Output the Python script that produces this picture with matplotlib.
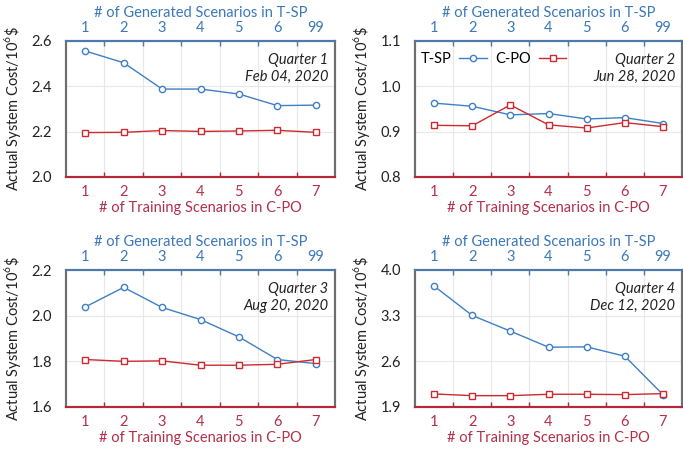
import matplotlib
matplotlib.use("Agg")
import matplotlib.pyplot as plt
from matplotlib.ticker import FixedLocator

plt.rcParams['font.family'] = ['Lato', 'DejaVu Sans']
plt.rcParams['mathtext.fontset'] = 'custom'
plt.rcParams['mathtext.rm'] = 'Lato'

train_labels = ['1', '2', '3', '4', '5', '6', '7']
gen_labels = ['1', '2', '3', '4', '5', '6', '99']
positions = [1, 2, 3, 4, 5, 6, 7]

q1_tsp = [2.556, 2.504, 2.388, 2.388, 2.366, 2.315, 2.317]
q1_cpo = [2.196, 2.197, 2.205, 2.201, 2.203, 2.206, 2.197]
q2_tsp = [0.963, 0.956, 0.937, 0.940, 0.928, 0.931, 0.918]
q2_cpo = [0.914, 0.913, 0.959, 0.915, 0.908, 0.920, 0.911]
q3_tsp = [2.038, 2.124, 2.036, 1.983, 1.907, 1.808, 1.790]
q3_cpo = [1.808, 1.800, 1.802, 1.783, 1.783, 1.787, 1.808]
q4_tsp = [3.754, 3.303, 3.063, 2.817, 2.822, 2.679, 2.090]
q4_cpo = [2.100, 2.074, 2.074, 2.095, 2.095, 2.090, 2.105]

panels = [
    (q1_tsp, q1_cpo, [2.0, 2.2, 2.4, 2.6], ['2.0', '2.2', '2.4', '2.6'], 'Quarter 1', 'Feb 04, 2020'),
    (q2_tsp, q2_cpo, [0.8, 0.9, 1.0, 1.1], ['0.8', '0.9', '1.0', '1.1'], 'Quarter 2', 'Jun 28, 2020'),
    (q3_tsp, q3_cpo, [1.6, 1.8, 2.0, 2.2], ['1.6', '1.8', '2.0', '2.2'], 'Quarter 3', 'Aug 20, 2020'),
    (q4_tsp, q4_cpo, [1.9, 2.6, 3.3, 4.0], ['1.9', '2.6', '3.3', '4.0'], 'Quarter 4', 'Dec 12, 2020'),
]

W, H = 683, 454
boxes = [(66, 41, 335, 177), (415, 41, 682, 177), (66, 270, 335, 407), (415, 270, 682, 407)]

BLUE = '#3f7fc4'
RED = '#cc2a30'
BLUE_TXT = '#3b78b9'
RED_TXT = '#b2304a'
BLUE_SPINE = '#4d7aa8'
RED_SPINE = '#b5283a'
GRID = '#e8e8e8'

fig = plt.figure(figsize=(W / 100, H / 100), dpi=100)

for i, ((tsp, cpo, yt, ytl, q, d), (l, t, r, b)) in enumerate(zip(panels, boxes)):
    ax = fig.add_axes([l / W, 1 - b / H, (r - l) / W, (b - t) / H])
    ax.set_xlim(0.5, 7.5)
    ax.set_ylim(yt[0], yt[-1])
    ax.set_yticks(yt)
    ax.set_yticklabels(ytl)
    ax.tick_params(axis='y', length=0, labelsize=10.5, pad=10, colors='#222222')
    ax.yaxis.grid(True, color=GRID, lw=0.8)
    ax.set_axisbelow(True)

    ax.set_xticks(positions)
    ax.set_xticklabels(train_labels)
    ax.xaxis.set_minor_locator(FixedLocator([1.5, 2.5, 3.5, 4.5, 5.5, 6.5]))
    ax.tick_params(axis='x', which='major', length=0, labelsize=10.5, colors=RED_TXT, pad=6)
    ax.tick_params(axis='x', which='minor', direction='in', length=3.5, width=1, color=RED_SPINE)
    ax.xaxis.grid(True, which='minor', color=GRID, lw=0.8)
    ax.set_xlabel('# of Training Scenarios in C-PO', color=RED_TXT, fontsize=10.5, labelpad=1)

    ax2 = ax.twiny()
    ax2.set_xlim(0.5, 7.5)
    ax2.set_xticks(positions)
    ax2.set_xticklabels(gen_labels)
    ax2.xaxis.set_minor_locator(FixedLocator([1.5, 2.5, 3.5, 4.5, 5.5, 6.5]))
    ax2.tick_params(axis='x', which='major', length=0, labelsize=10.5, colors=BLUE_TXT, pad=4)
    ax2.tick_params(axis='x', which='minor', direction='in', length=3.5, width=1, color=BLUE_SPINE)
    ax2.set_xlabel('# of Generated Scenarios in T-SP', color=BLUE_TXT, fontsize=10.5, labelpad=3)

    for a in (ax, ax2):
        a.spines['top'].set_color(BLUE_SPINE)
        a.spines['top'].set_linewidth(1.5)
        a.spines['bottom'].set_color(RED_SPINE)
        a.spines['bottom'].set_linewidth(1.5)
        a.spines['left'].set_color('#6e6e6e')
        a.spines['left'].set_linewidth(1.5)
        a.spines['right'].set_color('#6e6e6e')
        a.spines['right'].set_linewidth(1.5)

    ax.plot(positions, tsp, color=BLUE, lw=1, marker='o', ms=4.5, mfc='white', mec=BLUE, mew=1,
            label='T-SP', zorder=3)
    ax.plot(positions, cpo, color=RED, lw=1, marker='s', ms=4.5, mfc='white', mec=RED, mew=1,
            label='C-PO', zorder=3)

    ax.text(0.975, 0.86, q, transform=ax.transAxes, ha='right', va='center', style='italic',
            fontsize=10.5, color='#222222')
    ax.text(0.975, 0.735, d, transform=ax.transAxes, ha='right', va='center', style='italic',
            fontsize=10.5, color='#222222')

    ax.set_ylabel('Actual System Cost/10$^{6}$\\$', fontsize=10.5, color='#222222', labelpad=6)

    if i == 1:
        ax.legend(loc='upper left', ncol=2, frameon=False, markerfirst=False, fontsize=10.5,
                  handlelength=1.9, columnspacing=0.6, handletextpad=0.5,
                  bbox_to_anchor=(-0.015, 0.995), borderaxespad=0.3)

fig.savefig('out.png', dpi=100)
